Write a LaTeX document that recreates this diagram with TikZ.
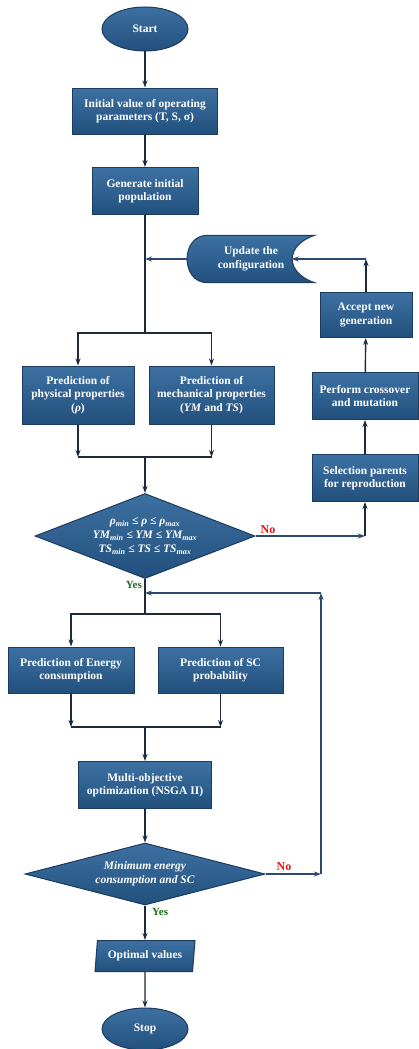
\documentclass[tikz,border=0pt]{standalone}
\usepackage{fontspec}
\setmainfont{Liberation Serif}
\usetikzlibrary{shapes.geometric,positioning,backgrounds,arrows.meta}

\definecolor{boxtop}{HTML}{3D71A2}
\definecolor{boxbot}{HTML}{22507D}
\definecolor{boxedge}{HTML}{1B3B60}
\definecolor{linedark}{HTML}{1C2A3C}
\definecolor{lineblue}{HTML}{2B4A70}
\definecolor{nored}{HTML}{F01010}
\definecolor{yesgreen}{HTML}{1E6B1E}

\begin{document}
\begin{tikzpicture}[x=1pt,y=-1pt,
  block/.style={rectangle, top color=boxtop, bottom color=boxbot, draw=boxedge, line width=1pt,
    text=white, font=\fontsize{11.5}{13.5}\selectfont\bfseries, align=center, inner sep=1pt},
  term/.style={block, ellipse, minimum width=86pt, minimum height=44pt},
  decide/.style={block, diamond, inner sep=0pt, font=\fontsize{11.5}{14}\selectfont\bfseries\itshape},
  flow/.style={draw=linedark, line width=1.4pt, >={Stealth[length=7pt,width=5pt]}, ->},
  back/.style={draw=lineblue, line width=1.1pt, >={Stealth[length=7pt,width=5pt]}, ->},
  plain/.style={draw=linedark, line width=1.4pt},
  nolbl/.style={text=nored, font=\fontsize{12}{14}\selectfont\bfseries, inner sep=1pt},
  yeslbl/.style={text=yesgreen, font=\fontsize{11}{13}\selectfont\bfseries, inner sep=1pt}]

\useasboundingbox (0,0) rectangle (419,1049);

\node[term] (start) at (145,29) {Start};
\node[block, minimum width=145pt, minimum height=46pt] (init) at (145,111) {Initial value of operating\\parameters (T, S, σ)};
\node[block, minimum width=106pt, minimum height=47pt] (gen) at (145,191) {Generate initial\\population};
\node[text=white, font=\fontsize{11.5}{13.5}\selectfont\bfseries, align=center, minimum width=127pt, minimum height=47pt, inner sep=0pt] (upd) at (251,259) {Update the\\configuration};
\node[block, minimum width=112pt, minimum height=58pt] (phys) at (78,395) {Prediction of\\physical properties\\(\textit{ρ})};
\node[block, minimum width=125pt, minimum height=58pt] (mech) at (211.5,395) {Prediction of\\mechanical properties\\(\textit{YM} and \textit{TS})};
\node[block, minimum width=92pt, minimum height=45pt] (accept) at (366,315) {Accept new\\generation};
\node[block, minimum width=106pt, minimum height=47pt] (cross) at (365,396) {Perform crossover\\and mutation};
\node[block, minimum width=106pt, minimum height=47pt] (select) at (365,478) {Selection parents\\for reproduction};
\node[decide, aspect=2.6, minimum width=220pt, minimum height=85pt] (chk) at (145,536) {ρ\textsubscript{min} ≤ ρ ≤ ρ\textsubscript{max}\\YM\textsubscript{min} ≤ YM ≤ YM\textsubscript{max}\\TS\textsubscript{min} ≤ TS ≤ TS\textsubscript{max}};
\node[block, minimum width=126pt, minimum height=46pt] (energy) at (71,670) {Prediction of Energy\\consumption};
\node[block, minimum width=125pt, minimum height=46pt] (sc) at (220.5,670) {Prediction of SC\\probability};
\node[block, minimum width=133pt, minimum height=47pt] (nsga) at (145,785) {Multi-objective\\optimization (NSGA II)};
\node[decide, aspect=3.9, minimum width=240pt, minimum height=62pt] (goal) at (145,874) {Minimum energy\\consumption and SC};
\node[block, trapezium, trapezium left angle=79, trapezium right angle=101, trapezium stretches body, minimum width=100pt, minimum height=31pt] (opt) at (145,956) {Optimal values};
\node[term, minimum height=42pt] (stop) at (145,1029) {Stop};

\begin{scope}[on background layer]
\draw[top color=boxtop, bottom color=boxbot, draw=boxedge, line width=1pt]
  ([xshift=20pt]upd.north west) -- (upd.north east)
  .. controls ([xshift=-30pt,yshift=-10pt]upd.north east) and ([xshift=-30pt,yshift=10pt]upd.south east) .. (upd.south east)
  -- ([xshift=20pt]upd.south west)
  .. controls ([xshift=-7pt]upd.south west) and ([xshift=-7pt]upd.north west) .. cycle;
\end{scope}

\coordinate (updin) at ([xshift=-23pt]upd.east);
\coordinate (split1) at (145,333);
\coordinate (merge1) at (145,457);
\coordinate (ret) at (321,593);
\coordinate (split2) at (145,614);
\coordinate (merge2) at (145,727);

\node[nolbl, above right=1pt and 4pt of chk.east] (no1) {No};
\node[yeslbl, below left=1pt and 2pt of chk.south] (yes1) {Yes};
\node[nolbl, above right=2pt and 10pt of goal.east] (no2) {No};
\node[yeslbl, below right=2pt and 6pt of goal.south] (yes2) {Yes};

\draw [flow] (start) -- (init);
\draw [flow] (init) -- (gen);
\draw [plain] (gen) -- (split1);
\draw [back] (upd.west) -- (upd.west -| gen.south);
\draw [flow] (split1) -| (phys.north);
\draw [flow] (split1) -| (mech.north);
\draw [flow] (phys.south) -- (phys.south |- merge1);
\draw [flow] (mech.south) -- (mech.south |- merge1);
\draw [plain] (phys.south |- merge1) -- (mech.south |- merge1);
\draw [flow] (merge1) -- (chk.north);

\draw [back] (chk.east) -- (chk.east -| select.south);
\draw [flow] (chk.east -| select.south) -- (select.south);
\draw [flow] (select) -- (cross);
\draw [flow] (cross) -- (accept);
\draw [flow] (accept.north) -- (accept.north |- updin);
\draw [back] (accept.north |- updin) -- (updin);

\draw [plain] (chk.south) -- (split2);
\draw [flow] (split2) -| (energy.north);
\draw [flow] (split2) -| (sc.north);
\draw [flow] (energy.south) -- (energy.south |- merge2);
\draw [flow] (sc.south) -- (sc.south |- merge2);
\draw [plain] (energy.south |- merge2) -- (sc.south |- merge2);
\draw [flow] (merge2) -- (nsga);
\draw [flow] (nsga) -- (goal);

\draw [back] (goal.east) -- (goal.east -| ret);
\draw [back] (goal.east -| ret) -- (ret);
\draw [back] (ret) -- (ret -| chk.south);

\draw [flow] (goal) -- (opt);
\draw [flow] (opt) -- (stop);

\end{tikzpicture}
\end{document}
